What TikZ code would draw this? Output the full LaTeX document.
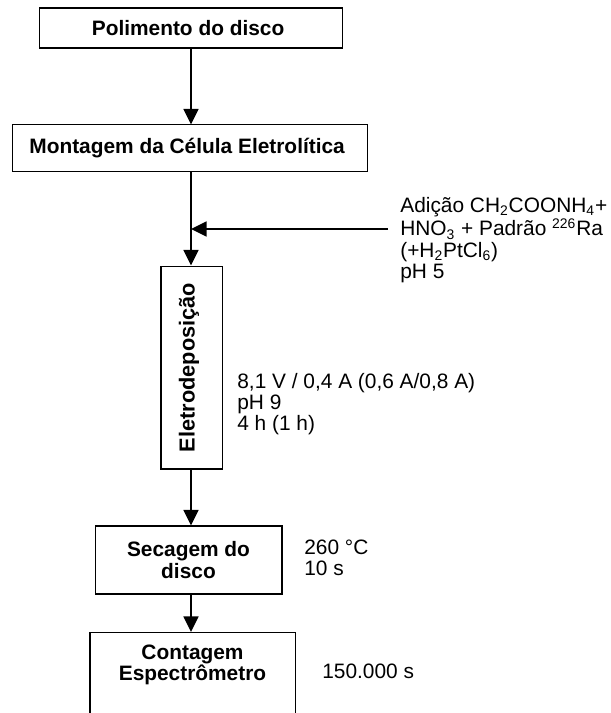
\documentclass[tikz,border=0pt]{standalone}
\usepackage{fontspec}
\setmainfont{Liberation Sans}
\usetikzlibrary{arrows.meta}

\begin{document}
\begin{tikzpicture}[
    x=0.575pt,
    y=-0.575pt,
    stage/.style={
        rectangle,
        draw,
        line width=0.6pt,
        inner sep=2pt,
        align=center,
        font=\fontsize{12}{12.5}\selectfont\bfseries
    },
    note/.style={
        anchor=west,
        inner sep=0pt,
        align=left,
        font=\fontsize{12}{12.2}\selectfont
    },
    flow/.style={
        -{Triangle[length=9pt,width=8.6pt]},
        line width=1.1pt
    }
]

\clip (0,0) rectangle (610,713);

\node[stage, minimum width=173.7pt, minimum height=23pt] (polish) at (191,28) {
    Polimento do disco
};

\node[stage, minimum width=203.6pt, minimum height=26.5pt] (mount) at (190,148) {
    Montagem da Célula Eletrolítica
};

\node[stage, minimum width=35.1pt, minimum height=116.7pt] (electro) at (191.5,367.5) {};
\node[stage, draw=none, rotate=90, font=\fontsize{12.5}{13}\selectfont\bfseries] (electrolbl) at (189,367.5) {Eletrodeposição};

\node[stage, minimum width=107.5pt, minimum height=39.1pt] (dry) at (188.5,560) {
    Secagem do\\
    disco
};

\node[stage, minimum width=117.9pt, minimum height=69pt, anchor=north] (count) at (192.5,632) {};
\node[stage, draw=none] (countlbl) at (192.5,665) {
    Contagem\\
    Espectrômetro
};

% condicoes
\node[note] (add) at (400,240) {
    Adição CH\textsubscript{2}COONH\textsubscript{4}+\\
    HNO\textsubscript{3} + Padrão \textsuperscript{226}Ra\\
    (+H\textsubscript{2}PtCl\textsubscript{6})\\
    pH 5
};
\node[note] (cond) at (237,404) {
    8,1 V / 0,4 A (0,6 A/0,8 A)\\
    pH 9\\
    4 h (1 h)
};
\node[note] (temp) at (304,558) {
    260 °C\\
    10 s
};
\node[note] (time) at (322,671) {150.000 s};

\coordinate (feed) at (388,229);
\coordinate (join) at (191,229);

\draw[flow] (polish.south -| 191,0) -- (mount.north -| 191,0);
\draw[flow] (mount.south -| 191,0) -- (electro.north -| 191,0);
\draw[flow] (feed) -- (join);
\draw[flow] (electro.south -| 191,0) -- (dry.north -| 191,0);
\draw[flow] (dry.south -| 191,0) -- (count.north -| 191,0);

\end{tikzpicture}
\end{document}
